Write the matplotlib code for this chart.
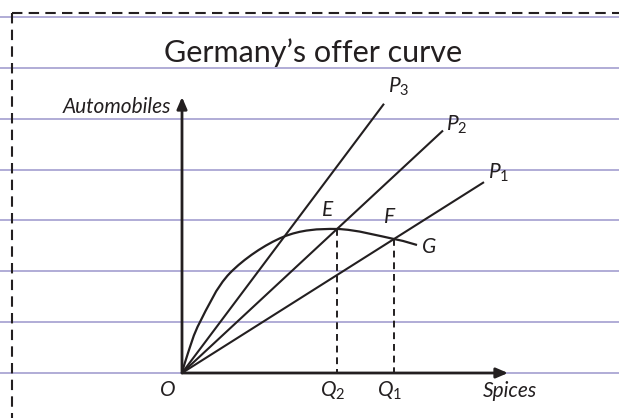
import matplotlib
matplotlib.use("Agg")
import matplotlib.pyplot as plt
from matplotlib.path import Path
from matplotlib.patches import PathPatch

# Offer curve O -> E -> F -> G (spices, automobiles)
curve_x = [0.0, 0.6, 1.8, 4.8, 10.1, 15.5, 21.2, 23.5]
curve_y = [0.0, 2.0, 5.1, 10.0, 13.6, 14.4, 13.4, 12.8]

# Labelled points on the curve
point_names = ["E", "F"]
point_x = [15.5, 21.2]
point_y = [14.4, 13.4]
quantity_names = ["$Q_2$", "$Q_1$"]

# Terms-of-trade rays from the origin
ray_names = ["$P_1$", "$P_2$", "$P_3$"]
ray_slopes = [0.632, 0.929, 1.333]
ray_ends = [30.2, 26.1, 20.2]

# Ruled notebook lines (automobile axis units)
rule_levels = [35.6, 30.5, 25.4, 20.3, 15.3, 10.2, 5.1, 0.0]

title_text = "Germany\u2019s offer curve"
x_label = "Spices"
y_label = "Automobiles"

INK = "#231f20"
RULE = "#aaa6d3"

plt.rcParams["mathtext.fontset"] = "custom"
plt.rcParams["mathtext.it"] = "Lato:italic"
plt.rcParams["mathtext.rm"] = "Lato"

fig = plt.figure(figsize=(6.19, 4.18), dpi=100)
ax = fig.add_axes([0, 0, 1, 1])
ax.set_xlim(-18.2, 43.7)
ax.set_ylim(-4.5, 37.3)
ax.axis("off")

# notebook rules
for lv in rule_levels:
    ax.axhline(lv, color=RULE, lw=1.3, zorder=1)

# dashed frame (top and left)
ax.plot([-17.0, 43.7], [36.0, 36.0], color=INK, lw=1.5, dashes=(5, 3), zorder=2)
ax.plot([-17.0, -17.0], [36.0, -4.5], color=INK, lw=1.5, dashes=(5, 3), zorder=2)

# axes with arrows
ax.annotate("", xy=(32.6, 0), xytext=(0, 0),
            arrowprops=dict(arrowstyle="-|>,head_length=0.7,head_width=0.3",
                            color=INK, lw=2.0, shrinkA=0, shrinkB=0), zorder=4)
ax.annotate("", xy=(0, 27.6), xytext=(0, 0),
            arrowprops=dict(arrowstyle="-|>,head_length=0.7,head_width=0.3",
                            color=INK, lw=2.0, shrinkA=0, shrinkB=0), zorder=4)

# rays
for name, s, xe in zip(ray_names, ray_slopes, ray_ends):
    ax.plot([0, xe], [0, s * xe], color=INK, lw=1.5, zorder=3, solid_capstyle="butt")

# offer curve as a smooth path through the points
pts = list(zip(curve_x, curve_y))
verts = [pts[0]]
codes = [Path.MOVETO]
n = len(pts)
for i in range(n - 1):
    p0 = pts[i - 1] if i > 0 else pts[i]
    p1 = pts[i]
    p2 = pts[i + 1]
    p3 = pts[i + 2] if i + 2 < n else pts[i + 1]
    c1 = (p1[0] + (p2[0] - p0[0]) / 6, p1[1] + (p2[1] - p0[1]) / 6)
    c2 = (p2[0] - (p3[0] - p1[0]) / 6, p2[1] - (p3[1] - p1[1]) / 6)
    verts += [c1, c2, p2]
    codes += [Path.CURVE4] * 3
ax.add_patch(PathPatch(Path(verts, codes), fill=False, edgecolor=INK, lw=1.6, zorder=3))

# dashed drop lines to the spices axis
for px, py in zip(point_x, point_y):
    ax.plot([px, px], [py, 0], color=INK, lw=1.4, dashes=(3.5, 2.5), zorder=3)

label_font = dict(family="Lato", style="italic", color=INK, fontsize=15)

# ray labels
ray_label_pos = [(30.6, 20.0), (26.4, 24.8), (20.6, 28.6)]
for name, (lx, ly) in zip(ray_names, ray_label_pos):
    ax.text(lx, ly, name, ha="left", va="center", **label_font)

# point labels
ax.text(14.6, 16.3, "E", ha="center", va="center", **label_font)
ax.text(20.8, 15.6, "F", ha="center", va="center", **label_font)
ax.text(24.7, 12.6, "G", ha="center", va="center", **label_font)

# axis labels
ax.text(-1.4, -1.7, "O", ha="center", va="center", **label_font)
for name, px in zip(quantity_names, point_x):
    ax.text(px - 0.4, -1.8, name, ha="center", va="center", **label_font)
ax.text(30.1, -1.8, x_label, ha="left", va="center", **label_font)
ax.text(-1.1, 26.0, y_label, ha="right", va="baseline", **label_font)

# title
ax.text(13.1, 31.1, title_text, ha="center", va="baseline",
        family="Lato", fontsize=22, color=INK)

fig.savefig("out.png", dpi=100)
